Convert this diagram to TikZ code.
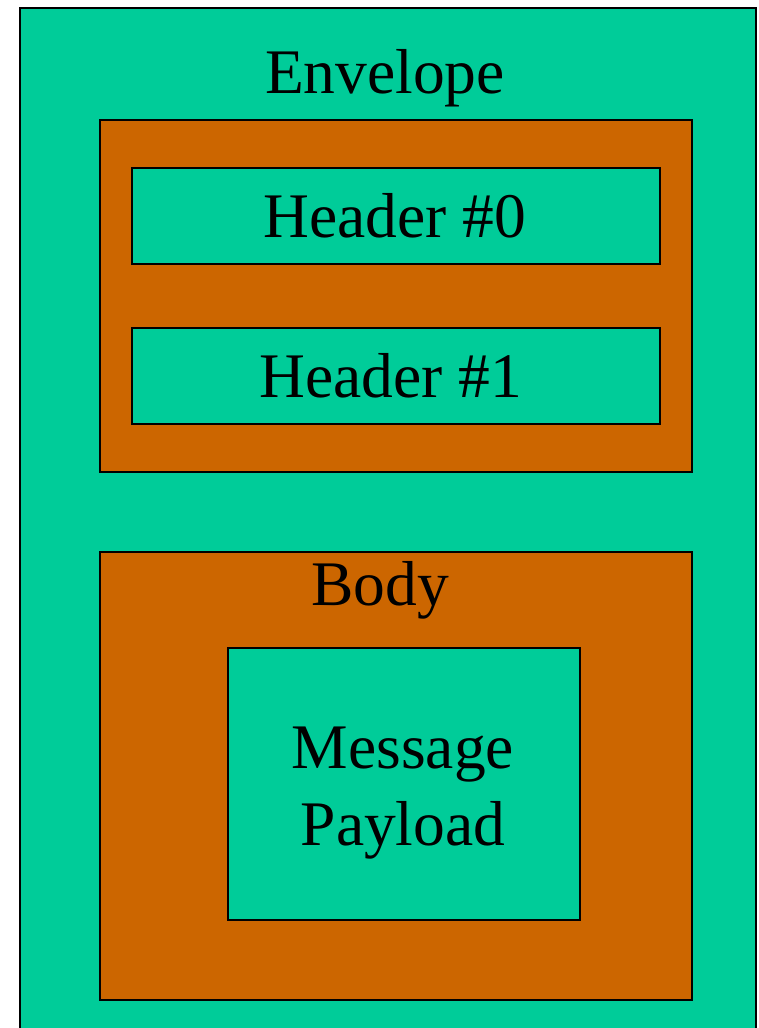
\documentclass[tikz,border=0pt]{standalone}
\usepackage{fontspec}
\setmainfont{Liberation Serif}
\definecolor{teal}{HTML}{00CC99}
\definecolor{orng}{HTML}{CC6600}
\begin{document}
\begin{tikzpicture}[x=1pt,y=-1pt,
  tbox/.style={draw=black,line width=2pt,fill=teal,rectangle,inner sep=0pt,anchor=north west},
  obox/.style={draw=black,line width=2pt,fill=orng,rectangle,inner sep=0pt,anchor=north west},
  lbl/.style={anchor=base,inner sep=0pt,font=\fontsize{63.5}{77}\selectfont,align=center}]
\useasboundingbox (0,0) rectangle (758,1028);
\clip (0,0) rectangle (758,1028);
\node[tbox,minimum width=736pt,minimum height=1040pt] (env) at (19,7) {};
\node[obox,minimum width=592pt,minimum height=352pt] (hdrs) at (99,119) {};
\node[tbox,minimum width=528pt,minimum height=96pt] (h0) at (131,167) {};
\node[tbox,minimum width=528pt,minimum height=96pt] (h1) at (131,327) {};
\node[obox,minimum width=592pt,minimum height=448pt] (body) at (99,551) {};
\node[tbox,minimum width=352pt,minimum height=272pt] (pay) at (227,647) {};
\node[lbl] (tenv) at (385,93) {Envelope};
\node[lbl] (th0) at (395,237) {Header \#0};
\node[lbl] (th1) at (391,397) {Header \#1};
\node[lbl] (tbody) at (380,605) {Body};
\node[lbl] (tmsg) at (403,768) {Message};
\node[lbl] (tpay) at (403,845) {Payload};
\end{tikzpicture}
\end{document}
